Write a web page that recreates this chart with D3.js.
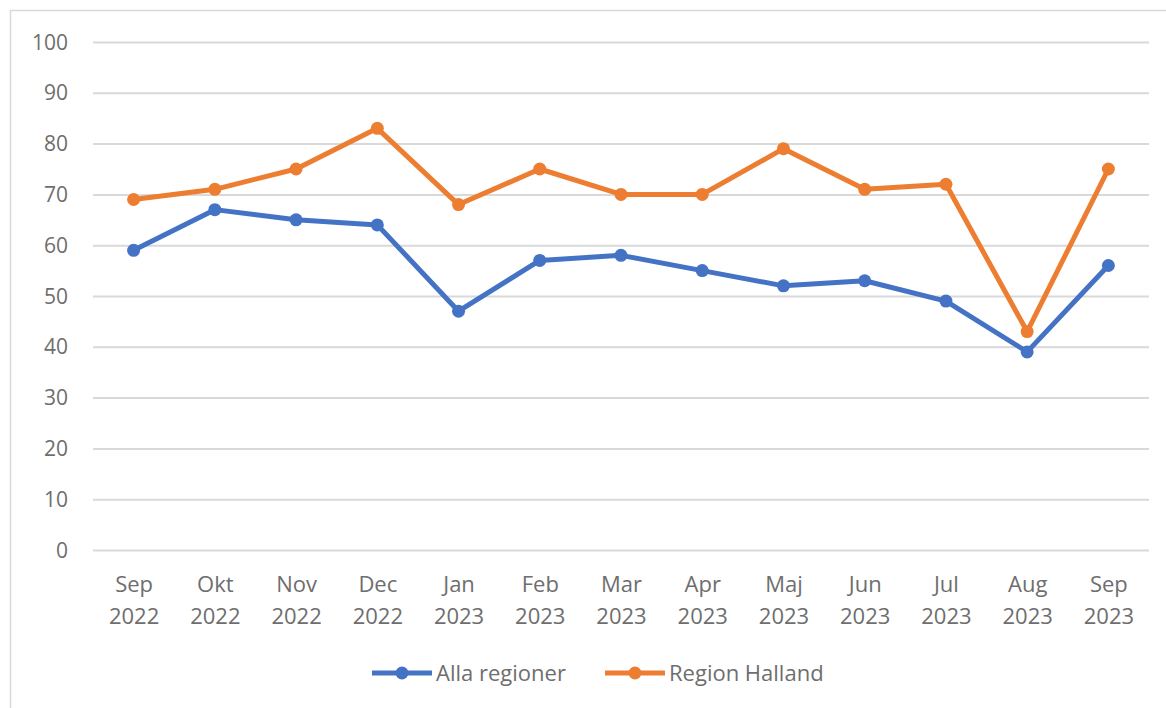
<!DOCTYPE html>
<html><head><meta charset="utf-8">
<script src="https://cdn.jsdelivr.net/npm/d3@7"></script>
<style>html,body{margin:0;padding:0;background:#fff;}svg{display:block;}</style>
</head><body><svg id="c" width="1166" height="708"></svg>
<script>
const months = ["Sep","Okt","Nov","Dec","Jan","Feb","Mar","Apr","Maj","Jun","Jul","Aug","Sep"];
const years = ["2022","2022","2022","2022","2023","2023","2023","2023","2023","2023","2023","2023","2023"];
const allaRegioner = [59,67,65,64,47,57,58,55,52,53,49,39,56];
const regionHalland = [69,71,75,83,68,75,70,70,79,71,72,43,75];
const yTicks = [0,10,20,30,40,50,60,70,80,90,100];
const seriesNames = ["Alla regioner","Region Halland"];
const colors = ["#4472C4","#ED7D31"];

const svg = d3.select("#c");
const font = "'Open Sans', 'Liberation Sans', sans-serif";
const textCol = "#6e6e6e";

// outer border
svg.append("rect").attr("x",10.5).attr("y",10.5).attr("width",1170).attr("height",710)
  .attr("fill","none").attr("stroke","#d9d9d9").attr("stroke-width",1.5);

const idx = d3.range(months.length);
const x = d3.scalePoint().domain(idx).range([93,1149]).padding(0.5);
const y = d3.scaleLinear().domain([0,100]).range([550,42]);

// gridlines
const yAxis = d3.axisLeft(y).tickValues(yTicks).tickSize(-(1149-93)).tickFormat(d3.format("d"));
const gy = svg.append("g").attr("transform","translate(93,0)").call(yAxis);
gy.select(".domain").remove();
gy.selectAll(".tick line").attr("stroke","#d9d9d9").attr("stroke-width",2);
gy.selectAll(".tick text").attr("x",-25).attr("dy","0.34em").attr("fill",textCol)
  .style("font-family",font).style("font-size","21px");

// x axis labels
const xAxis = d3.axisBottom(x).tickSize(0).tickFormat(() => "");
const gx = svg.append("g").attr("transform","translate(0,550)").call(xAxis);
gx.select(".domain").remove();
gx.selectAll(".tick").each(function(d){
  const t = d3.select(this).append("text").attr("fill",textCol).attr("text-anchor","middle")
    .style("font-family",font).style("font-size","22px");
  t.append("tspan").attr("x",0).attr("y",42).text(months[d]);
  t.append("tspan").attr("x",0).attr("y",74).text(years[d]);
});

const data = [allaRegioner, regionHalland];
const line = d3.line().x((d,i)=>x(i)).y(d=>y(d));
data.forEach((vals,k)=>{
  svg.append("path").datum(vals).attr("d",line).attr("fill","none")
    .attr("stroke",colors[k]).attr("stroke-width",5).attr("stroke-linejoin","round");
  svg.append("g").selectAll("circle").data(vals).join("circle")
    .attr("cx",(d,i)=>x(i)).attr("cy",d=>y(d)).attr("r",6.5).attr("fill",colors[k]);
});

// legend
const legX = [372, 605];
seriesNames.forEach((name,k)=>{
  const g = svg.append("g").attr("transform",`translate(${legX[k]},673)`);
  g.append("line").attr("x1",0).attr("x2",60).attr("y1",0).attr("y2",0)
    .attr("stroke",colors[k]).attr("stroke-width",5);
  g.append("circle").attr("cx",30).attr("cy",0).attr("r",6.5).attr("fill",colors[k]);
  g.append("text").attr("x",64).attr("y",8).attr("fill",textCol)
    .style("font-family",font).style("font-size","22px").text(name);
});
</script></body></html>
